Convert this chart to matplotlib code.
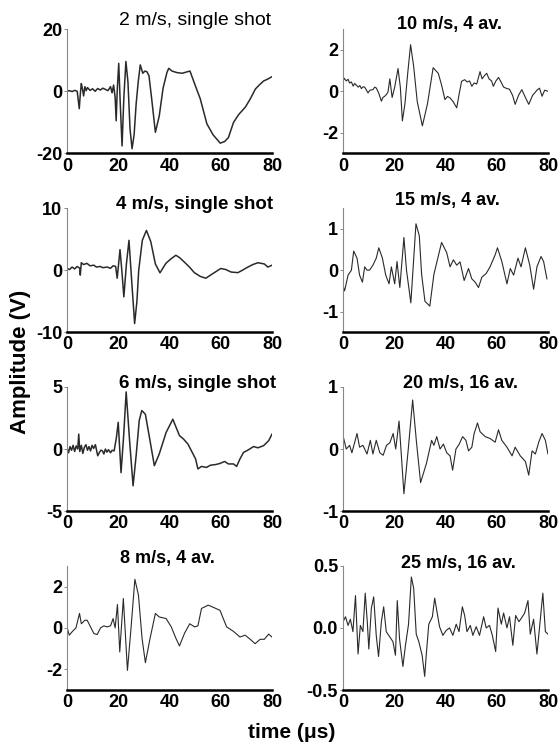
import matplotlib.pyplot as plt

plt.rcParams['font.family'] = ['Liberation Sans', 'DejaVu Sans']
plt.rcParams['axes.unicode_minus'] = False

# 2 m/s, single shot
t1 = [0, 1, 2, 3, 4, 4.8, 5.2, 5.6, 6.0, 6.5, 7, 7.5, 8, 9, 10, 11, 12, 13, 14, 15,
      16, 17, 17.6, 18.2, 18.8, 19.2, 19.6, 20.2, 20.8, 21.5, 22.2, 23.0, 23.8, 24.6, 25.4, 26.2, 27.0, 27.8, 28.6, 29.6,
      30.4, 31.2, 32, 33, 34.5, 36, 37.5, 39, 39.7, 41, 43, 45, 47, 48, 50, 52, 54.6, 57, 59.8, 61.5,
      63, 65, 67, 69.6, 71.5, 73.5, 75, 76.7, 78.5, 80]
v1 = [0, 0.2, -0.1, 0.3, 0, -5.6, -1, 2.5, 1, -1.5, 1.5, 0.2, 1.2, 0.3, 0.8, 0, 0.9, 0.4, 1, 0.6,
      0.2, 1.5, -0.5, 2, -2, -9.5, 0, 9, -4, -17.6, -2, 9.6, 3, -12, -18.5, -14, -4, 3, 8.5, 5.8,
      6.5, 6.3, 5, -2, -13.2, -8, 1, 6, 7.4, 6.5, 6, 5.8, 6.3, 6.5, 2, -2.4, -10.5, -14, -16.7, -16.2,
      -14.9, -10, -7.5, -5.1, -2.5, 0.7, 2, 3.3, 4, 4.7]

# 10 m/s, 4 av.
t2 = [0, 0.5, 1.3, 2, 2.6, 3.3, 4, 4.6, 5.2, 6, 6.6, 7.2, 7.9, 8.5, 9.2, 9.8, 10.5, 11.7, 12.4, 13,
      14, 15, 15.6, 16.3, 17, 17.6, 18.3, 19.2, 20.2, 21.5, 22.4, 23.2, 24.2, 25.3, 26.4, 27.6, 29, 31, 33, 35.2,
      36.2, 37.2, 38.5, 39.8, 40.8, 41.8, 43, 44.4, 45.4, 46.3, 47.5, 48.5, 49.4, 50.3, 51.2, 52.2, 53.5, 54.3, 55.2, 56.1,
      57, 58, 58.7, 59.7, 60.7, 61.7, 62.7, 64, 65, 66.2, 67.2, 68.5, 69.8, 71.2, 72.5, 74, 75.7, 76.7, 77.7, 78.7, 80]
v2 = [0.48, 0.63, 0.5, 0.58, 0.4, 0.45, 0.25, 0.38, 0.3, 0.2, 0.28, 0.13, 0.22, 0.2, 0.05, -0.08, 0.05, 0.08, 0.2, 0.16,
      -0.1, -0.48, -0.3, -0.24, -0.15, -0.03, 0.6, -0.3, 0.2, 1.1, 0.2, -1.43, -0.6, 0.9, 2.25, 1.2, -0.5, -1.67, -0.6, 1.14,
      1.0, 0.87, 0.3, -0.4, -0.25, -0.32, -0.5, -0.8, -0.1, 0.48, 0.56, 0.45, 0.5, 0.24, 0.4, 0.35, 0.95, 0.6, 0.75, 0.87,
      0.6, 0.5, 0.24, 0.5, 0.67, 0.45, 0.2, 0.13, 0.1, -0.2, -0.63, -0.2, 0.08, -0.3, -0.63, -0.2, 0.05, 0.15, -0.24, 0.05, 0.0]

# 4 m/s, single shot
t3 = [0, 1, 2, 3, 4, 5, 5.2, 5.6, 6.5, 7.8, 9, 10.5, 11.5, 13, 14, 15.7, 17, 18, 19, 19.6,
      20.7, 21.4, 22.2, 23.2, 24.2, 25.3, 26.4, 27.3, 28, 29.4, 31, 32.7, 34.5, 36.3, 38.6, 40.5, 42.5, 44, 45.8, 47.8,
      49.7, 52, 54.2, 56, 57.5, 60, 62, 64, 66.7, 68.5, 70.6, 72.5, 74.5, 77, 78.4, 80]
v3 = [0.27, 0.1, 0.5, 0.2, 0.6, 0.3, -0.8, 1.2, 0.9, 1.1, 0.7, 0.8, 0.5, 0.6, 0.4, 0.5, 0.3, 0.7, 0.6, -1.3,
      3.3, 0, -4.3, 1, 4.8, -2, -8.6, -5, 0, 4.8, 6.4, 4.6, 1, -0.43, 1.1, 1.8, 2.4, 2.0, 1.3, 0.5,
      -0.4, -1.0, -1.3, -0.8, -0.4, 0.27, 0.1, -0.3, -0.4, 0, 0.5, 0.9, 1.2, 1.0, 0.5, 0.8]

# 15 m/s, 4 av.
t4 = [0, 0.65, 2, 3.3, 4.2, 5.5, 6.5, 7.6, 8.5, 9.4, 10.4, 11.7, 13, 14, 15.4, 16.7, 18, 18.9, 20.2, 21.1,
      22.2, 23.8, 24.8, 26.5, 28.5, 29.8, 30.7, 32, 33.9, 35.5, 38.5, 40.5, 41.8, 43.1, 44.4, 45.7, 47.3, 49, 50.3, 51.6,
      52.9, 54.2, 55.9, 57.4, 59.4, 60.3, 62, 64, 65.3, 66.6, 68.3, 69.5, 71.2, 72.9, 74.4, 75.7, 77.3, 78.3, 79.6]
v4 = [-0.37, -0.5, -0.12, 0, 0.46, 0.29, -0.12, -0.29, 0.08, 0, 0, 0.12, 0.29, 0.54, 0.29, -0.12, -0.33, 0.08, -0.33, 0.21,
      -0.42, 0.79, 0.0, -0.79, 1.12, 0.83, -0.1, -0.75, -0.87, -0.1, 0.67, 0.42, 0.08, 0.25, 0.12, 0.2, -0.25, 0.04, -0.21, -0.29,
      -0.42, -0.17, -0.08, 0.08, 0.37, 0.54, 0.21, -0.33, 0.04, -0.12, 0.29, 0.08, 0.54, 0.12, -0.46, 0.08, 0.33, 0.21, -0.21]

# 6 m/s, single shot
t5 = [0, 0.6, 1.2, 1.8, 2.4, 3, 3.6, 4.2, 4.6, 5, 5.6, 6.2, 6.8, 7.4, 8, 8.6, 9.2, 9.8, 10.4, 11.1,
      12, 12.6, 13.2, 13.8, 14.4, 15, 15.6, 16.2, 17, 17.6, 18.4, 19.3, 20, 21.1, 22.1, 23.1, 24.5, 25.8, 27, 28.2,
      29.2, 30.6, 32.3, 34.1, 36, 38.7, 41.3, 43.9, 45.5, 47.2, 48.7, 50.2, 51.1, 52.5, 54.4, 56, 58, 59.7, 61.5, 63,
      65, 66.2, 67.5, 68.9, 70.5, 72.8, 74.5, 76.7, 78.7, 80]
v5 = [0.1, -0.3, 0.2, -0.1, 0.3, -0.2, 0.25, 0.0, 1.2, -0.2, 0.3, -0.35, 0.15, 0.35, -0.1, 0.2, -0.15, 0.3, 0.05, 0.35,
      -0.54, -0.3, -0.1, -0.13, -0.4, 0.0, -0.25, -0.05, -0.3, -0.1, -0.15, 0.94, 2.15, -1.9, 1.0, 4.6, 0.5, -2.96, -0.5, 2.3,
      3.1, 2.8, 0.8, -1.34, -0.4, 1.34, 2.4, 1.08, 0.8, 0.4, -0.2, -0.8, -1.6, -1.4, -1.48, -1.3, -1.25, -1.16, -1.0, -1.2,
      -1.2, -1.4, -0.8, -0.27, -0.1, 0.2, 0.1, 0.27, 0.67, 1.2]

# 20 m/s, 16 av.
t6 = [0.3, 1.3, 2.6, 3.5, 4.6, 5.5, 6.5, 7.8, 9.4, 10.7, 11.7, 13, 14.4, 15.7, 17, 18.3, 19.6, 20.6, 21.9, 23.8,
      25.5, 27.2, 28.7, 30.3, 32.6, 34.6, 35.5, 36.6, 37.9, 39.2, 40.5, 41.8, 42.8, 44.1, 45.4, 46.7, 48, 49, 50.3, 51.2,
      52.5, 53.5, 55.5, 57.4, 59.4, 60.7, 62, 64, 66, 67.2, 69.2, 71.2, 72.5, 73.8, 75.1, 76.4, 77.7, 79, 80]
v6 = [0.17, 0, 0.06, -0.06, 0.11, 0.25, 0.03, 0.06, -0.08, 0.14, -0.08, 0.14, -0.06, -0.1, 0.06, 0.1, 0.25, 0, 0.45, -0.72,
      0, 0.79, 0.11, -0.54, -0.23, 0.14, 0.06, 0.2, 0, 0.08, -0.06, -0.11, -0.34, 0, 0.08, 0.2, 0.14, -0.03, 0.03, 0.25,
      0.42, 0.28, 0.2, 0.17, 0.11, 0.31, 0.14, 0.03, -0.11, 0.03, -0.11, -0.2, -0.42, -0.03, -0.08, 0.11, 0.25, 0.14, -0.08]

# 8 m/s, 4 av.
t7 = [0, 0.9, 2.2, 3.5, 4.9, 5.6, 7, 7.9, 9.2, 10.5, 11.8, 13.1, 14.4, 15.7, 17, 18, 18.8, 19.7, 20.6, 22,
      23.6, 25, 26.5, 27.9, 29.3, 30.6, 32.4, 34.5, 36, 38.7, 40.7, 42.5, 43.9, 45.9, 47.9, 49.8, 51.1, 52.5, 55.1, 57,
      59.7, 62.3, 64.9, 67.5, 69.5, 71.5, 73.4, 75.4, 77, 78.7, 80]
v7 = [0.05, -0.35, -0.16, 0, 0.7, 0.2, 0.37, 0.37, 0.05, -0.27, -0.32, 0, 0.1, 0.05, 0.1, 0.45, 0, 1.13, -1.16, 1.42,
      -2.05, 0, 2.35, 1.58, -0.5, -1.68, -0.52, 0.7, 0.53, 0.45, 0.05, -0.5, -0.87, -0.25, 0.2, 0.05, 0.1, 0.94, 1.1, 1.0,
      0.85, 0.05, -0.16, -0.44, -0.35, -0.55, -0.76, -0.55, -0.55, -0.3, -0.44]

# 25 m/s, 16 av.
t8 = [0.3, 1, 2, 2.9, 3.9, 4.9, 5.9, 6.8, 7.8, 8.7, 9.5, 10.1, 11.1, 12, 13, 13.9, 15, 15.9, 16.9, 18.2,
      19.5, 20.5, 21.2, 22.1, 23.4, 24.4, 25.6, 26.7, 27.6, 28.6, 29.6, 30.9, 31.9, 32.5, 33.5, 34.9, 35.8, 36.7, 37.7, 39,
      40.3, 41.6, 42.9, 44.2, 45.3, 46.6, 47.5, 48.4, 49.7, 50.7, 52, 53.3, 54.9, 55.9, 57.2, 58.3, 59.6, 60.5, 61.8, 62.7,
      64, 65, 66.3, 67.4, 68.7, 70, 70.9, 72.2, 73.1, 74.4, 75.7, 76.7, 78, 79, 80]
v8 = [0.06, 0.09, 0.02, 0.07, -0.03, 0.26, -0.21, 0.02, -0.03, 0.28, 0.05, -0.17, 0.16, 0.25, -0.06, -0.23, 0.05, 0.17, -0.03, -0.07,
      -0.11, -0.22, 0.22, -0.09, -0.31, -0.14, 0.03, 0.41, 0.32, -0.05, -0.11, -0.22, -0.39, -0.22, 0.03, 0.09, 0.24, 0.13, 0.01, -0.06,
      -0.02, 0.0, -0.06, 0.03, -0.03, 0.17, 0.1, -0.03, 0.02, -0.06, 0.01, -0.06, 0.09, 0.0, 0.02, -0.06, -0.19, 0.16, 0.03, 0.12,
      0.0, 0.09, -0.14, 0.1, 0.05, 0.09, 0.12, 0.22, -0.05, 0.07, -0.21, 0.0, 0.28, -0.03, -0.05]

titles = ['2 m/s, single shot', '10 m/s, 4 av.', '4 m/s, single shot', '15 m/s, 4 av.',
          '6 m/s, single shot', '20 m/s, 16 av.', '8 m/s, 4 av.', '25 m/s, 16 av.']
ylims = [(-20, 20), (-3, 3), (-10, 10), (-1.5, 1.5), (-5, 5), (-1, 1), (-3, 3), (-0.5, 0.5)]
yticks = [[-20, 0, 20], [-2, 0, 2], [-10, 0, 10], [-1, 0, 1], [-5, 0, 5], [-1, 0, 1], [-2, 0, 2], [-0.5, 0.0, 0.5]]
ytlabels = [['-20', '0', '20'], ['-2', '0', '2'], ['-10', '0', '10'], ['-1', '0', '1'],
            ['-5', '0', '5'], ['-1', '0', '1'], ['-2', '0', '2'], ['-0.5', '0.0', '0.5']]
title_pos = [(0.625, 1.07), (0.52, 1.04), (0.62, 1.03), (0.51, 1.06),
             (0.635, 1.03), (0.575, 1.03), (0.49, 1.06), (0.565, 1.02)]
xticks = [0, 20, 40, 60, 80]

series = [(t1, v1), (t2, v2), (t3, v3), (t4, v4), (t5, v5), (t6, v6), (t7, v7), (t8, v8)]

fig, axes = plt.subplots(4, 2, figsize=(5.58, 7.48), dpi=100)
plt.subplots_adjust(left=0.12, right=0.982, bottom=0.0775, top=0.961, wspace=0.346, hspace=0.44)

for i, ax in enumerate(axes.flat):
    t, v = series[i]
    lw = 1.1 if i in (0, 2, 4) else 0.8
    ax.plot(t, v, color='#2a2a2a', lw=lw)
    ax.set_xlim(0, 80)
    ax.set_ylim(*ylims[i])
    ax.set_xticks(xticks)
    ax.set_xticklabels([str(x) for x in xticks], fontsize=13, fontweight='bold')
    ax.set_yticks(yticks[i])
    ax.set_yticklabels(ytlabels[i], fontsize=13, fontweight='bold')
    ax.tick_params(axis='x', length=0, pad=3)
    ax.tick_params(axis='y', length=2, width=0.6, pad=1.5, color='#777777')
    ax.spines['top'].set_visible(False)
    ax.spines['right'].set_visible(False)
    ax.spines['left'].set_color('#888888')
    ax.spines['left'].set_linewidth(0.8)
    ax.spines['bottom'].set_color('black')
    ax.spines['bottom'].set_linewidth(1.8)
    ax.patch.set_alpha(0)
    tx, ty = title_pos[i]
    if i == 0:
        ax.text(tx, ty, titles[i], transform=ax.transAxes, ha='center', va='center', fontsize=14)
    else:
        size = 13.5 if 'single' in titles[i] else 13
        ax.text(tx, ty, titles[i], transform=ax.transAxes, ha='center', va='center', fontsize=size,
                fontweight='bold')

fig.text(0.036, 0.516, 'Amplitude (V)', rotation=90, ha='center', va='center', fontsize=16, fontweight='bold')
fig.text(0.522, 0.021, 'time (μs)', ha='center', va='center', fontsize=15, fontweight='bold')

plt.savefig('out.png')
